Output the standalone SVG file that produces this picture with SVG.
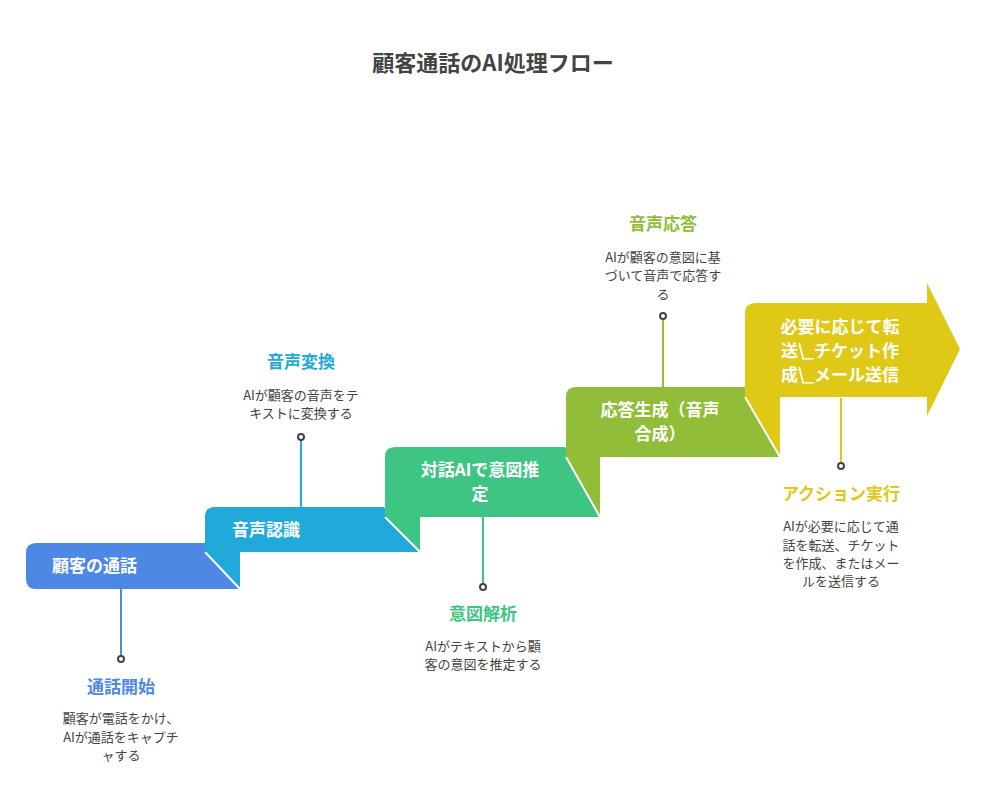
<svg xmlns="http://www.w3.org/2000/svg" width="986" height="812" viewBox="0 0 986 812">
<style>
text{font-family:"Noto Sans CJK JP","Noto Sans",sans-serif}
.t{font-size:22px;font-weight:bold;fill:#444}
.s{font-size:17px;font-weight:bold;fill:#fff}
.h{font-size:17px;font-weight:bold}
.d{font-size:13px;fill:#444}
.dot{fill:#fff;stroke:#444;stroke-width:2}
.cut{stroke:#fff;stroke-width:2}
</style>
<rect width="986" height="812" fill="#fff"/>
<text class="t" x="493" y="71" text-anchor="middle">顧客通話のAI処理フロー</text>
<g id="connectors">
<line x1="121" y1="589" x2="121" y2="656" stroke="#4E88E5" stroke-width="2"/>
<circle class="dot" cx="121" cy="659" r="3"/>
<line x1="301" y1="440" x2="301" y2="507" stroke="#21AAD9" stroke-width="2"/>
<circle class="dot" cx="301" cy="437" r="3"/>
<line x1="483" y1="517" x2="483" y2="584" stroke="#3EC483" stroke-width="2"/>
<circle class="dot" cx="483" cy="587" r="3"/>
<line x1="663" y1="319" x2="663" y2="387" stroke="#92BD39" stroke-width="2"/>
<circle class="dot" cx="663" cy="316" r="3"/>
<line x1="841" y1="398" x2="841" y2="463" stroke="#DFC916" stroke-width="2"/>
<circle class="dot" cx="841" cy="466" r="3"/>
</g>
<g id="step1">
<path d="M36,543 H205 L240,589 H36 Q26,589 26,579 V553 Q26,543 36,543Z" fill="#4E88E5"/>
<text class="s" x="52" y="572">顧客の通話</text>
</g>
<g id="step2">
<path d="M205,552 H240 V589Z" fill="#21AAD9"/>
<line class="cut" x1="205" y1="552" x2="240" y2="589"/>
<path d="M215,507 H384 L420,552 H205 V517 Q205,507 215,507Z" fill="#21AAD9"/>
<text class="s" x="232" y="536">音声認識</text>
</g>
<g id="step3">
<path d="M385,517 H420 V552Z" fill="#3EC483"/>
<line class="cut" x1="385" y1="517" x2="420" y2="552"/>
<path d="M395,447 H565 L600,517 H385 V457 Q385,447 395,447Z" fill="#3EC483"/>
<text class="s" x="480" y="476" text-anchor="middle">対話AIで意図推</text>
<text class="s" x="480" y="500" text-anchor="middle">定</text>
</g>
<g id="step4">
<path d="M566,457 H600 V517Z" fill="#92BD39"/>
<line class="cut" x1="566" y1="457" x2="600" y2="517"/>
<path d="M576,387 H745 L780,457 H566 V397 Q566,387 576,387Z" fill="#92BD39"/>
<text class="s" x="660" y="416" text-anchor="middle">応答生成（音声</text>
<text class="s" x="660" y="440" text-anchor="middle">合成）</text>
</g>
<g id="step5">
<path d="M745,397 H780 V457Z" fill="#DFC916"/>
<line class="cut" x1="745" y1="397" x2="780" y2="457"/>
<path d="M755,303 H927 V283 L960,349 L927,416 V397 H745 V313 Q745,303 755,303Z" fill="#DFC916"/>
<text class="s" x="840" y="333" text-anchor="middle">必要に応じて転</text>
<text class="s" x="840" y="357" text-anchor="middle">送\_チケット作</text>
<text class="s" x="840" y="381" text-anchor="middle">成\_メール送信</text>
</g>
<g id="label1">
<text class="h" x="121" y="693" text-anchor="middle" fill="#4E88E5">通話開始</text>
<text class="d" x="121" y="723" text-anchor="middle">顧客が電話をかけ、</text>
<text class="d" x="121" y="742" text-anchor="middle">AIが通話をキャプチ</text>
<text class="d" x="121" y="760" text-anchor="middle">ャする</text>
</g>
<g id="label2">
<text class="h" x="301" y="368" text-anchor="middle" fill="#21AAD9">音声変換</text>
<text class="d" x="301" y="400" text-anchor="middle">AIが顧客の音声をテ</text>
<text class="d" x="301" y="418" text-anchor="middle">キストに変換する</text>
</g>
<g id="label3">
<text class="h" x="483" y="620" text-anchor="middle" fill="#3EC483">意図解析</text>
<text class="d" x="483" y="651" text-anchor="middle">AIがテキストから顧</text>
<text class="d" x="483" y="669" text-anchor="middle">客の意図を推定する</text>
</g>
<g id="label4">
<text class="h" x="663" y="230" text-anchor="middle" fill="#92BD39">音声応答</text>
<text class="d" x="663" y="262" text-anchor="middle">AIが顧客の意図に基</text>
<text class="d" x="663" y="280" text-anchor="middle">づいて音声で応答す</text>
<text class="d" x="663" y="299" text-anchor="middle">る</text>
</g>
<g id="label5">
<text class="h" x="841" y="500" text-anchor="middle" fill="#DFC916">アクション実行</text>
<text class="d" x="841" y="531" text-anchor="middle">AIが必要に応じて通</text>
<text class="d" x="841" y="550" text-anchor="middle">話を転送、チケット</text>
<text class="d" x="841" y="568" text-anchor="middle">を作成、またはメー</text>
<text class="d" x="841" y="586" text-anchor="middle">ルを送信する</text>
</g>
</svg>
